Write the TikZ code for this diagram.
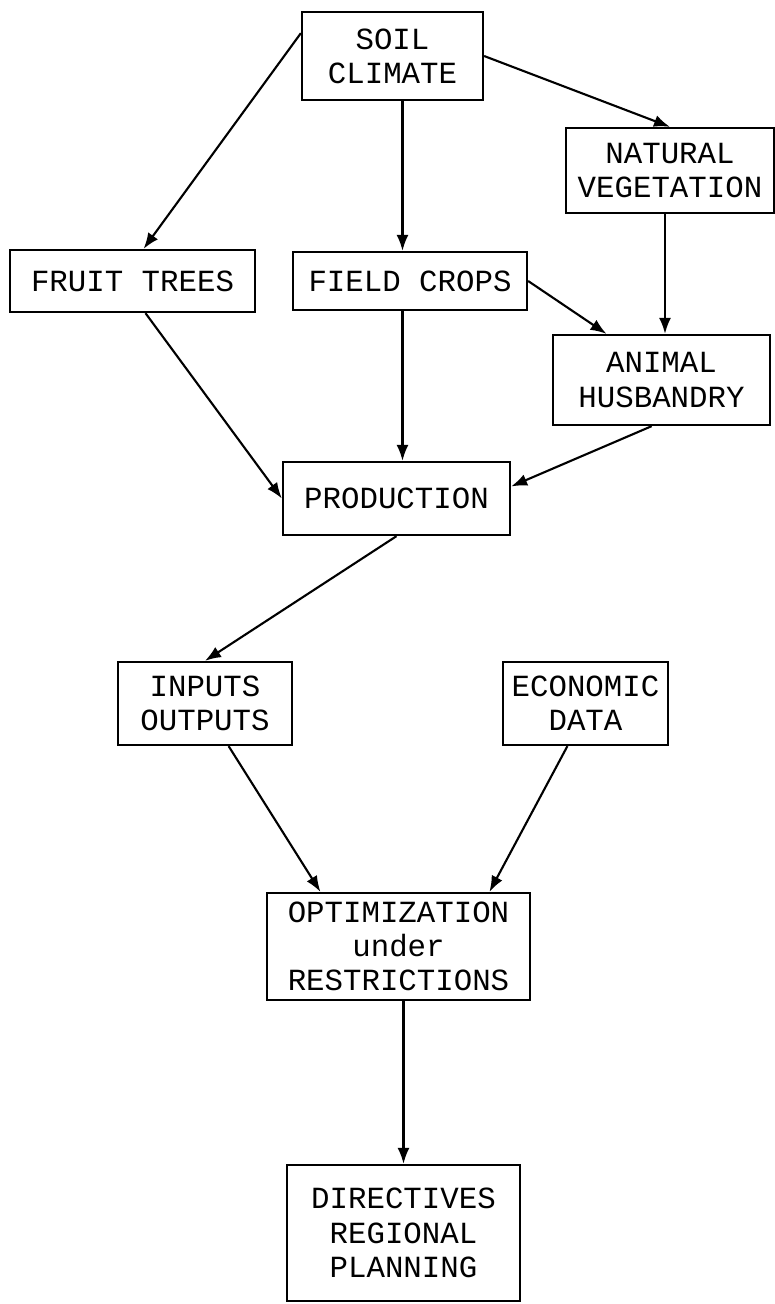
\documentclass[tikz,border=0pt]{standalone}
\usepackage{fontspec}
\setmonofont{Liberation Mono}
\usetikzlibrary{arrows.meta}
\tikzset{
	blockbox/.style={draw, line width=1.3pt, inner sep=0pt, align=center,
		font=\ttfamily\fontsize{17.5}{19.5}\selectfont},
	flowarrow/.style={line width=1.2pt, -{Latex[length=0.32cm,width=0.24cm]}}
}

\begin{document}
\begin{tikzpicture}
		%%%%% START %%%%%
		\useasboundingbox (0, 0) rectangle (15.5, -26.08);
		
		\node[blockbox, minimum width=3.62cm, minimum height=1.76cm] (soil) at (7.85, -1.12) {SOIL\\CLIMATE};
		\node[blockbox, minimum width=4.16cm, minimum height=1.70cm] (natveg) at (13.40, -3.41) {NATURAL\\VEGETATION};
		
		\node[blockbox, minimum width=4.90cm, minimum height=1.24cm] (fruit) at (2.65, -5.62) {FRUIT TREES};
		\node[blockbox, minimum width=4.68cm, minimum height=1.16cm] (field) at (8.20, -5.62) {FIELD CROPS};
		\node[blockbox, minimum width=4.34cm, minimum height=1.80cm] (animal) at (13.23, -7.60) {ANIMAL\\HUSBANDRY};
		
		\node[blockbox, minimum width=4.54cm, minimum height=1.46cm] (prod) at (7.93, -9.97) {PRODUCTION};
		
		\node[blockbox, minimum width=3.48cm, minimum height=1.66cm] (inout) at (4.10, -14.07) {INPUTS\\OUTPUTS};
		\node[blockbox, minimum width=3.30cm, minimum height=1.66cm] (econ) at (11.71, -14.07) {ECONOMIC\\DATA};
		
		\node[blockbox, minimum width=5.26cm, minimum height=2.14cm] (optim) at (7.97, -18.93) {OPTIMIZATION\\under\\RESTRICTIONS};
		\node[blockbox, minimum width=4.66cm, minimum height=2.72cm] (direct) at (8.07, -24.66) {DIRECTIVES\\REGIONAL\\PLANNING};
		
		% top level
		\draw[flowarrow] (soil.166) -- (fruit.71);
		\draw[flowarrow] ([xshift=0.2cm]soil.south) -- ([xshift=0.2cm]soil.south |- field.north);
		\draw[flowarrow] (soil.east) -- (natveg.north);
		\draw[flowarrow] ([xshift=-0.1cm]natveg.south) -- ([xshift=-0.1cm]natveg.south |- animal.north);
		\draw[flowarrow] (field.east) -- (animal.140);
		
		% into production
		\draw[flowarrow] (fruit.292) -- (prod.west);
		\draw[flowarrow] ([xshift=-0.15cm]field.south) -- ([xshift=-0.15cm]field.south |- prod.north);
		\draw[flowarrow] (animal.258) -- (prod.6);
		
		% lower part
		\draw[flowarrow] (prod.south) -- (inout.north);
		\draw[flowarrow] (inout.299) -- (optim.145);
		\draw[flowarrow] (econ.247) -- (optim.31);
		\draw[flowarrow] (optim.south -| direct.north) -- (direct.north);
		
		%%%%% END %%%%%
	\end{tikzpicture}
\end{document}
